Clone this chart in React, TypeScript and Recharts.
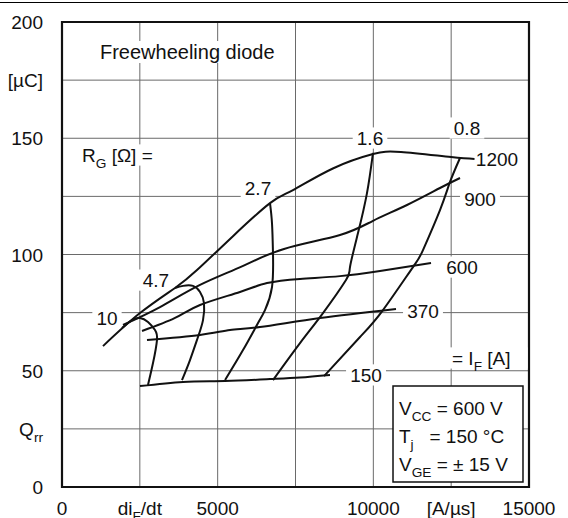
import React from 'react';
import { ComposedChart, Line, XAxis, YAxis, CartesianGrid, ReferenceArea, ReferenceDot } from 'recharts';

const FONT = '"Liberation Sans", Arial, sans-serif';
const FS = 19;

const xTicks = [0, 2500, 5000, 7500, 10000, 12500, 15000];
const xTickLabels = ['0', 'di_{F}/dt', '5000', '', '10000', '[A/µs]', '15000'];
const yTicks = [0, 25, 50, 75, 100, 125, 150, 175, 200];
const yTickLabels = ['0', 'Q_{rr}', '50', '', '100', '', '150', '[µC]', '200'];

// Qrr vs diF/dt, one curve per forward current I_F [A]
const if150 = [
  { x: 2505, y: 43.4 }, { x: 3887, y: 45.2 }, { x: 5235, y: 45.6 },
  { x: 6681, y: 46.4 }, { x: 7645, y: 47.1 }, { x: 8608, y: 48.2 },
];
const if370 = [
  { x: 2730, y: 63.2 }, { x: 4433, y: 65.4 }, { x: 5396, y: 67.5 },
  { x: 6360, y: 68.8 }, { x: 8287, y: 72.7 }, { x: 10728, y: 76.6 },
];
const if600 = [
  { x: 2570, y: 67.1 }, { x: 3630, y: 72.7 }, { x: 4433, y: 78.3 }, { x: 5717, y: 83.9 },
  { x: 6585, y: 87.7 }, { x: 7645, y: 89.5 }, { x: 8929, y: 90.7 }, { x: 10214, y: 92.9 },
  { x: 11853, y: 96.3 },
];
const if900 = [
  { x: 1959, y: 69.7 }, { x: 3148, y: 77.4 }, { x: 4433, y: 86.9 }, { x: 5800, y: 95.0 },
  { x: 7131, y: 102.4 }, { x: 8929, y: 108.4 }, { x: 9989, y: 114.5 }, { x: 11081, y: 121.3 },
  { x: 12141, y: 128.6 }, { x: 12784, y: 132.9 },
];
const if1200 = [
  { x: 1317, y: 60.6 }, { x: 2505, y: 74.8 }, { x: 3630, y: 85.6 }, { x: 4336, y: 93.3 },
  { x: 5500, y: 108.0 }, { x: 6681, y: 122.1 }, { x: 7420, y: 127.7 }, { x: 8700, y: 137.0 },
  { x: 9989, y: 143.2 }, { x: 10889, y: 144.1 }, { x: 12495, y: 141.9 }, { x: 13250, y: 141.1 },
];

// one curve per gate resistance R_G [Ω]
const rg10 = [
  { x: 1927, y: 68.4 }, { x: 2248, y: 71.8 }, { x: 2505, y: 72.7 }, { x: 2762, y: 71.0 },
  { x: 2987, y: 67.5 }, { x: 3051, y: 63.2 }, { x: 2923, y: 53.3 }, { x: 2762, y: 43.9 },
];
const rg47 = [
  { x: 3630, y: 85.6 }, { x: 3887, y: 86.5 }, { x: 4208, y: 86.5 }, { x: 4433, y: 83.9 },
  { x: 4561, y: 79.1 }, { x: 4529, y: 71.8 }, { x: 4368, y: 64.5 }, { x: 4111, y: 54.6 },
  { x: 3854, y: 46.0 },
];
const rg27 = [
  { x: 6681, y: 122.1 }, { x: 6745, y: 113.5 }, { x: 6777, y: 100.6 }, { x: 6745, y: 86.0 },
  { x: 6520, y: 76.1 }, { x: 6296, y: 70.5 }, { x: 5814, y: 58.9 }, { x: 5236, y: 46.0 },
];
const rg16 = [
  { x: 9989, y: 143.7 }, { x: 9796, y: 126.4 }, { x: 9507, y: 109.2 }, { x: 9250, y: 94.6 },
  { x: 9122, y: 89.0 }, { x: 8383, y: 74.8 }, { x: 7645, y: 61.9 }, { x: 6777, y: 46.0 },
];
const rg08 = [
  { x: 12784, y: 141.5 }, { x: 12463, y: 131.2 }, { x: 12141, y: 119.1 }, { x: 11595, y: 101.9 },
  { x: 11274, y: 94.6 }, { x: 10310, y: 76.1 }, { x: 9572, y: 64.5 }, { x: 8416, y: 47.7 },
];

const curves = [if150, if370, if600, if900, if1200, rg10, rg47, rg27, rg16, rg08];

const annotations = [
  { text: 'Freewheeling diode', x: 1220, y: 187.1, anchor: 'start', size: 20 },
  { text: 'R_{G} [Ω] =', x: 642, y: 142.8, anchor: 'start', size: 19 },
  { text: '2.7', x: 6296, y: 128.6, anchor: 'middle', size: 19 },
  { text: '1.6', x: 9893, y: 150.1, anchor: 'middle', size: 19 },
  { text: '0.8', x: 13009, y: 154.4, anchor: 'middle', size: 19 },
  { text: '1200', x: 13972, y: 141.1, anchor: 'middle', size: 19 },
  { text: '900', x: 13426, y: 123.9, anchor: 'middle', size: 19 },
  { text: '600', x: 12848, y: 94.6, anchor: 'middle', size: 19 },
  { text: '370', x: 11595, y: 75.7, anchor: 'middle', size: 19 },
  { text: '150', x: 9765, y: 48.2, anchor: 'middle', size: 19 },
  { text: '= I_{F} [A]', x: 12527, y: 55.5, anchor: 'start', size: 19 },
  { text: '4.7', x: 3019, y: 89.0, anchor: 'middle', size: 19 },
  { text: '10', x: 1445, y: 72.7, anchor: 'middle', size: 19 },
];

const conditions = ['V_{CC} = 600 V', 'T_{j}\u00a0\u00a0\u00a0= 150 °C', 'V_{GE} = ± 15 V'];
const conditionY = [34.0, 21.9, 9.9];

function Rich({ text, size }: { text: string; size: number }) {
  const parts = text.split(/(_\{[^}]*\})/).filter(Boolean);
  let shifted = false;
  return (
    <>
      {parts.map((p, i) => {
        if (p.startsWith('_{')) {
          shifted = true;
          return (
            <tspan key={i} dy={size * 0.3} fontSize={size * 0.72}>
              {p.slice(2, -1)}
            </tspan>
          );
        }
        const dy = shifted ? -size * 0.3 : 0;
        shifted = false;
        return (
          <tspan key={i} dy={dy}>
            {p}
          </tspan>
        );
      })}
    </>
  );
}

function textWidth(text: string, size: number) {
  let w = 0;
  const parts = text.split(/(_\{[^}]*\})/).filter(Boolean);
  parts.forEach((p) => {
    const sub = p.startsWith('_{');
    const s = sub ? p.slice(2, -1) : p;
    for (const ch of s) w += (ch === ' ' || ch === '.' ? 0.28 : ch === 'i' || ch === 'l' ? 0.22 : 0.56) * (sub ? size * 0.72 : size);
  });
  return w;
}

function XTick(props: any) {
  const { x, y, payload } = props;
  const label = xTickLabels[xTicks.indexOf(payload.value)] ?? '';
  return (
    <text x={x} y={y + 20} textAnchor="middle" fontFamily={FONT} fontSize={FS} fill="#111">
      <Rich text={label} size={FS} />
    </text>
  );
}

function YTick(props: any) {
  const { x, y, payload } = props;
  const label = yTickLabels[yTicks.indexOf(payload.value)] ?? '';
  return (
    <text x={x - 11} y={y + 7} textAnchor="end" fontFamily={FONT} fontSize={FS} fill="#111">
      <Rich text={label} size={FS} />
    </text>
  );
}

function makeLabel(text: string, anchor: string, size: number) {
  return (p: any) => {
    const w = textWidth(text, size);
    const padX = 4;
    const padY = 3;
    const h = size * 0.8;
    const left = anchor === 'start' ? p.cx - padX : p.cx - w / 2 - padX;
    return (
      <g>
        <rect x={left} y={p.cy - h / 2 - padY} width={w + 2 * padX} height={h + 2 * padY} fill="#fff" />
        <text x={p.cx} y={p.cy + size * 0.36} textAnchor={anchor} fontFamily={FONT} fontSize={size} fill="#111">
          <Rich text={text} size={size} />
        </text>
      </g>
    );
  };
}

function makePlainText(text: string) {
  return (p: any) => (
    <text x={p.cx} y={p.cy + 7} textAnchor="start" fontFamily={FONT} fontSize={19} fill="#111">
      <Rich text={text} size={19} />
    </text>
  );
}

export default function App() {
  return (
    <div style={{ position: 'absolute', left: 0, top: 0, width: 568, height: 518, background: '#fff' }}>
      <div style={{ position: 'absolute', left: 0, top: 2, width: 568, borderTop: '1.5px solid #000' }} />
      <ComposedChart width={568} height={518} margin={{ top: 22, right: 39, bottom: 0, left: 0 }}>
        <CartesianGrid stroke="#6a6a6a" strokeWidth={1} />
        <XAxis
          type="number"
          dataKey="x"
          domain={[0, 15000]}
          ticks={xTicks}
          interval={0}
          tick={<XTick />}
          tickLine={false}
          axisLine={false}
          height={31}
        />
        <YAxis
          type="number"
          dataKey="y"
          domain={[0, 200]}
          ticks={yTicks}
          interval={0}
          tick={<YTick />}
          tickLine={false}
          axisLine={false}
          width={62}
        />
        {annotations.map((a, i) => (
          <ReferenceDot key={'a' + i} x={a.x} y={a.y} r={0} shape={makeLabel(a.text, a.anchor, a.size)} />
        ))}
        <ReferenceArea x1={10632} x2={14807} y1={2.2} y2={43.4} fill="#fff" fillOpacity={1} stroke="#111" strokeWidth={1.5} />
        {conditions.map((c, i) => (
          <ReferenceDot key={'c' + i} x={10824} y={conditionY[i]} r={0} shape={makePlainText(c)} />
        ))}
        {curves.map((d, i) => (
          <Line
            key={i}
            data={d}
            dataKey="y"
            type="natural"
            stroke="#111"
            strokeWidth={2}
            dot={false}
            isAnimationActive={false}
            zIndex={700}
          />
        ))}
        <ReferenceArea x1={0} x2={15000} y1={0} y2={200} fill="none" stroke="#111" strokeWidth={2.2} />
      </ComposedChart>
    </div>
  );
}
